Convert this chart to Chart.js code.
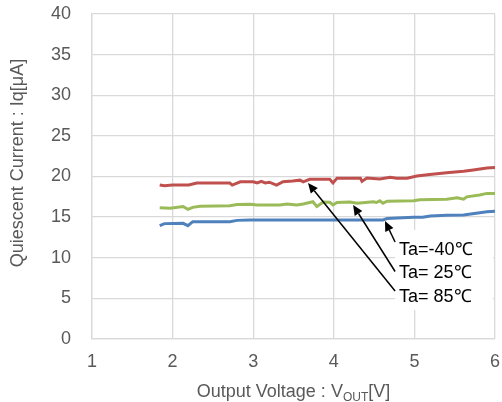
<!DOCTYPE html>
<html>
<head>
<meta charset="utf-8">
<script src="https://cdn.jsdelivr.net/npm/chart.js@4/dist/chart.umd.min.js"></script>
<style>
html,body{margin:0;padding:0;background:#fff;}
canvas{display:block;}
</style>
</head>
<body>
<canvas id="c" width="502" height="402"></canvas>
<script>
// ---- data ----
const xTicks = [1, 2, 3, 4, 5, 6];
const yTicks = [0, 5, 10, 15, 20, 25, 30, 35, 40];

const vout85 = [1.84,1.90,2.00,2.20,2.30,2.50,2.71,2.74,2.84,3.00,3.05,3.10,3.15,3.20,3.29,3.37,3.49,3.58,3.62,3.70,3.80,3.95,3.99,4.04,4.15,4.33,4.35,4.41,4.57,4.70,4.78,4.91,5.03,5.19,5.40,5.61,5.73,5.90,6.00];
const iq85   = [18.95,18.85,18.95,18.95,19.2,19.2,19.2,18.95,19.35,19.35,19.2,19.4,19.2,19.3,18.95,19.35,19.45,19.55,19.35,19.65,19.65,19.65,19.2,19.8,19.8,19.8,19.4,19.8,19.7,19.9,19.8,19.8,20.05,20.25,20.45,20.65,20.8,21.05,21.1];

const vout25 = [1.84,1.97,2.13,2.19,2.25,2.34,2.71,2.80,2.96,3.05,3.33,3.42,3.54,3.62,3.74,3.79,3.87,3.95,3.99,4.04,4.20,4.29,4.49,4.53,4.57,4.61,4.66,4.99,5.07,5.40,5.53,5.61,5.65,5.81,5.90,6.00];
const iq25   = [16.15,16.1,16.3,15.95,16.2,16.35,16.4,16.55,16.57,16.5,16.5,16.62,16.5,16.62,16.9,16.3,16.85,16.82,16.5,16.8,16.85,16.7,16.9,16.8,17.0,16.7,16.95,17.02,17.15,17.19,17.38,17.2,17.5,17.72,17.92,17.92];

const voutM40 = [1.84,1.90,2.13,2.19,2.25,2.71,2.80,2.96,4.61,4.66,4.99,5.10,5.20,5.40,5.61,5.90,6.00];
const iqM40   = [13.95,14.2,14.24,13.95,14.44,14.44,14.6,14.65,14.65,14.82,14.98,14.98,15.15,15.22,15.26,15.67,15.72];

const seriesNames = ['Ta=-40℃', 'Ta= 25℃', 'Ta= 85℃'];
// arrow tips (data coords) for each label
const tipX = [4.635, 4.24, 3.68];
const tipY = [14.52, 16.49, 19.2];

function pts(xs, ys){ return xs.map((x,i)=>({x:x, y:ys[i]})); }

const FONT = "'Liberation Sans', Arial, sans-serif";
const GRID = '#d9d9d9';
const TXT = '#595959';

// ---- annotation layout ----
const annoLayout = {
  textLeftX: 4.81,
  firstBaseline: 10.34,
  lineStep: 23.5,
  tailDx: -4,
  tailDy: [-13, -7, -11],
  box: {left: -4, right: 94, top: -25, bottom: 55}
};

const overlay = {
  id: 'overlay',
  beforeDatasetsDraw(chart){
    const ctx = chart.ctx, xs = chart.scales.x, ys = chart.scales.y;
    const lx = xs.getPixelForValue(annoLayout.textLeftX);
    const by = ys.getPixelForValue(annoLayout.firstBaseline);
    ctx.save();
    ctx.fillStyle = '#fff';
    const b = annoLayout.box;
    ctx.fillRect(lx + b.left, by + b.top, b.right - b.left, b.bottom - b.top);
    ctx.restore();
  },
  afterDatasetsDraw(chart){
    const ctx = chart.ctx, xs = chart.scales.x, ys = chart.scales.y;
    const lx = xs.getPixelForValue(annoLayout.textLeftX);
    const by = ys.getPixelForValue(annoLayout.firstBaseline);
    ctx.save();
    ctx.font = '18px ' + FONT;
    ctx.textBaseline = 'alphabetic';
    ctx.textAlign = 'left';
    seriesNames.forEach((name, i) => {
      const base = by + i * annoLayout.lineStep;
      ctx.fillStyle = '#000';
      ctx.fillText(name, lx, base);
      const x0 = lx + annoLayout.tailDx, y0 = base + annoLayout.tailDy[i];
      const x1 = xs.getPixelForValue(tipX[i]), y1 = ys.getPixelForValue(tipY[i]);
      const ang = Math.atan2(y1 - y0, x1 - x0);
      const L = 10, W = 4.5;
      const bx = x1 - L * Math.cos(ang), byy = y1 - L * Math.sin(ang);
      ctx.strokeStyle = '#000';
      ctx.lineWidth = 1.5;
      ctx.beginPath();
      ctx.moveTo(x0, y0);
      ctx.lineTo(bx, byy);
      ctx.stroke();
      ctx.fillStyle = '#000';
      ctx.beginPath();
      ctx.moveTo(x1, y1);
      ctx.lineTo(bx + W * Math.sin(ang), byy - W * Math.cos(ang));
      ctx.lineTo(bx - W * Math.sin(ang), byy + W * Math.cos(ang));
      ctx.closePath();
      ctx.fill();
    });
    ctx.restore();
  },
  afterDraw(chart){
    const ctx = chart.ctx, area = chart.chartArea;
    ctx.save();
    ctx.fillStyle = TXT;
    const parts = [
      {t: 'Output Voltage : V', f: '18px ' + FONT, dy: 0},
      {t: 'OUT', f: '12px ' + FONT, dy: 4},
      {t: '[V]', f: '18px ' + FONT, dy: 0}
    ];
    let total = 0;
    parts.forEach(p => { ctx.font = p.f; p.w = ctx.measureText(p.t).width; total += p.w; });
    let x = (area.left + area.right) / 2 - total / 2;
    const base = 397;
    ctx.textBaseline = 'alphabetic';
    ctx.textAlign = 'left';
    parts.forEach(p => { ctx.font = p.f; ctx.fillText(p.t, x, base + p.dy); x += p.w; });
    ctx.translate(23, 163);
    ctx.rotate(-Math.PI / 2);
    ctx.font = '18px ' + FONT;
    ctx.textAlign = 'center';
    ctx.fillText('Quiescent Current : Iq[μA]', 0, 0);
    ctx.restore();
  }
};

const lineStyle = {borderWidth: 3, pointRadius: 0, tension: 0, fill: false, showLine: true};

function zeroPad(s){ s.paddingTop = 0; s.paddingBottom = 0; s.paddingLeft = 0; s.paddingRight = 0; }

new Chart(document.getElementById('c'), {
  type: 'scatter',
  data: {
    datasets: [
      Object.assign({label: seriesNames[0], data: pts(voutM40, iqM40), borderColor: '#4f81bd', backgroundColor: '#4f81bd'}, lineStyle),
      Object.assign({label: seriesNames[1], data: pts(vout25, iq25), borderColor: '#9bbb59', backgroundColor: '#9bbb59'}, lineStyle),
      Object.assign({label: seriesNames[2], data: pts(vout85, iq85), borderColor: '#c0504d', backgroundColor: '#c0504d'}, lineStyle)
    ]
  },
  options: {
    responsive: false,
    animation: false,
    layout: {padding: {top: 14, right: 7, left: 0, bottom: 0}},
    plugins: {legend: {display: false}, tooltip: {enabled: false}},
    scales: {
      x: {
        type: 'linear', min: xTicks[0], max: xTicks[xTicks.length - 1],
        afterBuildTicks(s){ s.ticks = xTicks.map(v => ({value: v})); },
        afterFit(s){ s.height = 63; zeroPad(s); },
        grid: {color: GRID, lineWidth: 1.3, drawTicks: false},
        border: {color: GRID, width: 1.3},
        ticks: {color: TXT, font: {family: FONT, size: 18}, padding: 12, maxRotation: 0}
      },
      y: {
        type: 'linear', min: yTicks[0], max: yTicks[yTicks.length - 1],
        afterBuildTicks(s){ s.ticks = yTicks.map(v => ({value: v})); },
        afterFit(s){ s.width = 92; zeroPad(s); },
        grid: {color: GRID, lineWidth: 1.3, drawTicks: false},
        border: {color: GRID, width: 1.3},
        ticks: {color: TXT, font: {family: FONT, size: 18}, padding: 21}
      }
    }
  },
  plugins: [overlay]
});
</script>
</body>
</html>
